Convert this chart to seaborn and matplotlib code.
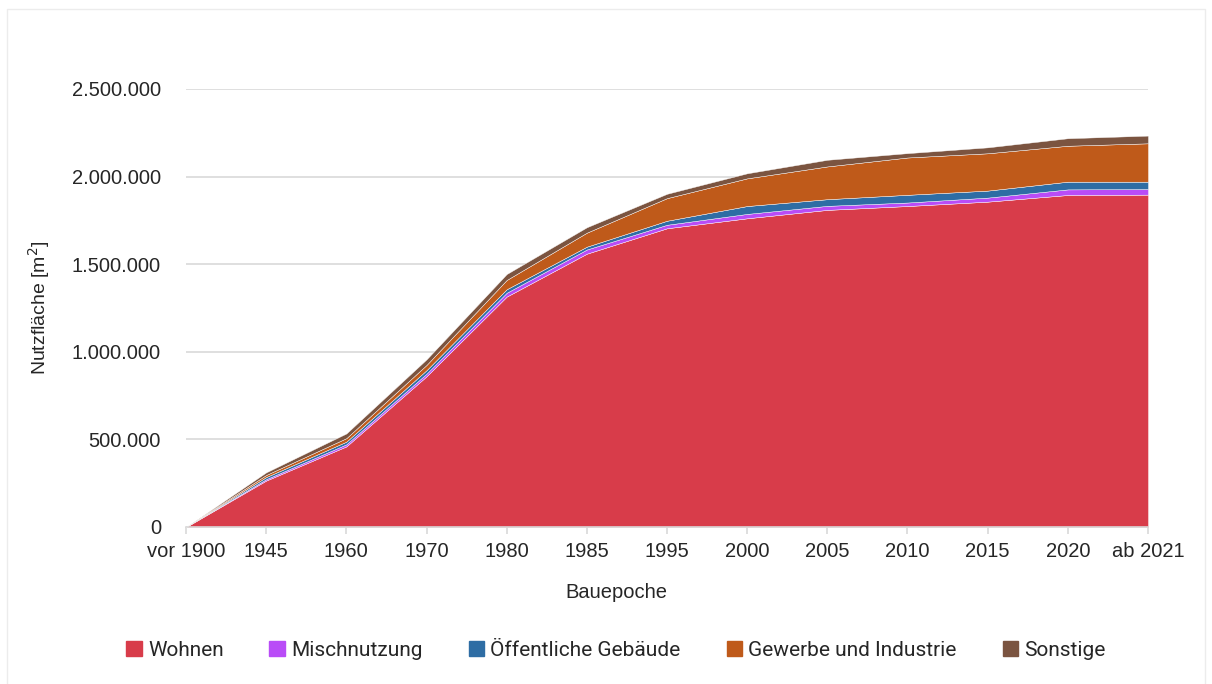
import numpy as np
import pandas as pd
import matplotlib
matplotlib.use("Agg")
import matplotlib.pyplot as plt
from matplotlib.patches import Patch, Rectangle
from matplotlib.ticker import FuncFormatter
import seaborn as sns

epochs = ["vor 1900", "1945", "1960", "1970", "1980", "1985", "1995",
          "2000", "2005", "2010", "2015", "2020", "ab 2021"]
wohnen = [0, 265000, 460000, 860000, 1315000, 1560000, 1705000,
          1762000, 1810000, 1832000, 1857000, 1895000, 1897000]
mischnutzung = [0, 8000, 12000, 15000, 22000, 24000, 20000,
                25000, 23000, 20000, 23000, 32000, 32000]
oeffentlich = [0, 12000, 15000, 20000, 20000, 16000, 23000,
               45000, 38000, 44000, 40000, 44000, 42000]
gewerbe = [0, 12000, 20000, 30000, 53000, 80000, 129000,
           158000, 187000, 213000, 213000, 205000, 219000]
sonstige = [0, 15000, 27000, 32000, 34000, 31000, 25000,
            29000, 38000, 25000, 34000, 43000, 44000]

series_names = ["Wohnen", "Mischnutzung", "Öffentliche Gebäude",
                "Gewerbe und Industrie", "Sonstige"]
colors = ["#D83C4A", "#B94CF7", "#2E6DA4", "#BF5A1A", "#7B5440"]

df = pd.DataFrame({"Bauepoche": epochs, "Wohnen": wohnen,
                   "Mischnutzung": mischnutzung,
                   "Öffentliche Gebäude": oeffentlich,
                   "Gewerbe und Industrie": gewerbe,
                   "Sonstige": sonstige})

sns.set_theme(style="whitegrid")
plt.rcParams["font.family"] = ["Liberation Sans", "DejaVu Sans"]

fig = plt.figure(figsize=(12.12, 6.84), dpi=100)
ax = fig.add_axes([186/1212, 1-527/684, (1148-186)/1212, (527-89)/684])

x = np.arange(len(epochs))
ax.stackplot(x, *[df[n].values for n in series_names], colors=colors,
             edgecolor="white", linewidth=0.3, zorder=3)

ax.set_xlim(0, len(epochs) - 1)
ax.set_ylim(0, 2500000)
ax.set_yticks([0, 500000, 1000000, 1500000, 2000000, 2500000])
ax.yaxis.set_major_formatter(FuncFormatter(lambda v, p: f"{int(v):,}".replace(",", ".")))
ax.set_xticks(x)
ax.set_xticklabels(epochs)

ax.grid(axis="y", color="#d9d9d9", linewidth=1.2, zorder=0)
ax.grid(axis="x", visible=False)
for s in ["top", "right", "left"]:
    ax.spines[s].set_visible(False)
ax.spines["bottom"].set_color("#d9d9d9")
ax.spines["bottom"].set_linewidth(1.2)
ax.spines["bottom"].set_zorder(4)

ax.tick_params(axis="x", which="major", bottom=True, length=5, width=1.2,
               color="#d9d9d9", labelsize=14.5, labelcolor="#262626", pad=6)
ax.tick_params(axis="y", length=0, labelsize=14.5, labelcolor="#262626", pad=18)

ax.set_ylabel("Nutzfläche [m$^2$]", fontsize=14, color="#262626", labelpad=14)
fig.text(616/1212, 1-593/684, "Bauepoche", ha="center", va="center",
         fontsize=14.5, color="#262626")

handles = [Patch(facecolor=c, edgecolor=c) for c in colors]
fig.legend(handles, series_names, loc="center", bbox_to_anchor=(616/1212, 1-650/684),
           ncol=5, frameon=False, handlelength=0.75, handleheight=0.75,
           handletextpad=0.3, columnspacing=2.2,
           prop={"family": ["Roboto", "DejaVu Sans"], "size": 15})

fig.patches.append(Rectangle((7/1212, -0.01), (1205-7)/1212, 1.01-9/684,
                             transform=fig.transFigure, fill=False,
                             edgecolor="#ececec", linewidth=1.0))

fig.savefig("out.png", dpi=100, facecolor="white")
